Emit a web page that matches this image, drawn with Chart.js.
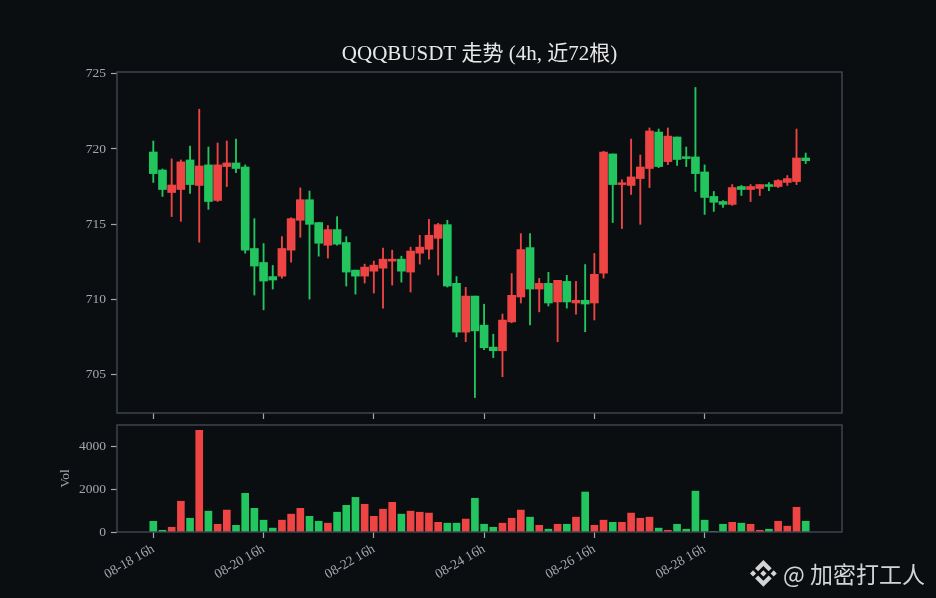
<!DOCTYPE html>
<html>
<head>
<meta charset="utf-8">
<script src="https://cdn.jsdelivr.net/npm/chart.js@4"></script>
<style>
  html, body { margin: 0; padding: 0; background: #0b0e11; overflow: hidden; width: 936px; height: 598px; }
  #wrap { position: relative; width: 936px; height: 598px; }
  canvas { position: absolute; left: 0; }
  #c1 { top: 0; }
  #c2 { top: 420px; }
  #wm { position: absolute; left: 750px; top: 556px; display: flex; align-items: center; color: #d4d4d4;
        font-family: "Noto Sans CJK SC", "Noto Sans", sans-serif; font-size: 23px; white-space: nowrap; }
  #wm svg { width: 27px; height: 27px; margin-right: 6px; }
</style>
</head>
<body>
<div id="wrap">
  <canvas id="c1" width="936" height="420"></canvas>
  <canvas id="c2" width="936" height="178"></canvas>
  <div id="wm"><svg viewBox="0 0 126.61 126.61"><g fill="#d4d4d4"><path d="M38.171 53.203L62.759 28.616l24.601 24.6 14.307-14.307L62.759 0 23.864 38.896zM0 62.759l14.307-14.307 14.307 14.307-14.307 14.307zM38.171 72.315l24.588 24.587 24.6-24.599 14.315 14.299-.007.008-38.908 38.908-38.896-38.895-.02-.02zM96.903 62.765l14.307-14.307 14.307 14.307-14.307 14.307zM77.27 62.752h.006L62.759 48.234 52.03 58.962l-1.232 1.233-2.543 2.543-.02.02.02.02 14.504 14.505 14.517-14.518.007-.008z"/></g></svg><span>@ 加密打工人</span></div>
</div>
<script>
const titleText = "QQQBUSDT 走势 (4h, 近72根)";
const tickPositions = [0, 12, 24, 36, 48, 60];
const tickLabels = ["08-18 16h", "08-20 16h", "08-22 16h", "08-24 16h", "08-26 16h", "08-28 16h"];
const priceTicks = [705, 710, 715, 720, 725];
const volTicks = [0, 2000, 4000];

const opens = [719.8,718.6,717.1,717.3,719.27,717.57,718.94,716.57,718.83,719.07,
  718.8,713.37,712.44,711.5,711.53,713.26,715.25,716.62,715.1,713.59,
  714.63,713.77,711.93,711.53,711.86,712.06,712.53,712.66,711.8,713.06,
  713.32,714.05,714.96,711.05,707.8,710.2,708.26,706.8,706.56,708.48,
  710.14,713.43,710.67,711.05,709.81,711.18,709.74,709.92,709.74,711.73,
  719.67,717.63,717.57,718.03,718.7,721.13,719.16,720.8,719.49,719.47,
  718.47,716.84,716.5,716.31,717.5,717.3,717.37,717.63,717.5,717.77,
  717.83,719.4];
const highs = [720.53,718.67,719.34,719.27,720.2,722.65,720.13,720.4,720.53,720.66,
  718.94,715.36,713.7,712.24,714.16,715.42,717.41,717.2,715.1,714.9,
  715.49,714.16,711.93,712.33,712.53,713.4,713.26,712.86,713.46,714.25,
  715.31,715.05,715.25,711.5,710.78,710.2,709.66,707.66,709.0,711.7,
  714.36,714.36,711.38,711.78,711.25,711.58,711.18,712.3,713.04,719.85,
  719.67,717.95,720.66,719.6,721.4,721.33,721.4,720.8,720.13,724.1,
  718.94,717.17,716.57,717.63,717.57,717.63,717.63,717.76,717.96,718.23,
  721.33,719.73];
const lows = [717.77,716.84,715.5,715.18,717.04,713.79,715.98,716.5,717.5,718.43,
  713.06,710.27,709.28,710.67,711.4,712.46,714.12,710.0,712.86,712.73,
  713.59,710.87,710.33,711.07,710.4,709.4,710.93,711.13,710.47,712.33,
  712.66,711.6,710.8,707.48,707.16,703.44,706.63,706.1,704.83,708.42,
  709.74,708.28,709.15,709.54,707.16,709.4,709.0,707.82,708.61,711.4,
  715.1,714.7,716.97,714.98,717.43,718.76,718.96,718.9,718.83,717.17,
  715.64,715.84,716.1,716.24,716.9,716.5,716.9,717.23,717.43,717.57,
  717.63,719.03];
const closes = [718.36,717.3,717.6,719.14,717.63,718.87,716.5,718.94,719.07,718.7,
  713.26,712.2,711.2,711.27,713.37,715.36,716.62,714.98,713.72,714.63,
  713.66,711.8,711.53,712.13,712.26,712.66,712.66,711.86,713.2,713.46,
  714.25,714.96,710.87,707.8,710.2,707.88,706.76,706.56,708.6,710.25,
  713.3,710.67,711.05,709.74,711.25,709.81,709.92,709.67,711.65,719.8,
  717.63,717.75,718.14,718.8,721.2,718.83,720.86,719.3,719.36,718.36,
  716.77,716.45,716.31,717.43,717.3,717.5,717.63,717.5,717.9,718.03,
  719.4,719.22];
const volumes = [498,80,220,1430,640,4730,970,360,1020,310,
  1800,1100,550,180,550,830,1100,730,500,410,
  920,1240,1610,1290,730,1060,1380,830,970,920,
  880,450,410,410,600,1570,360,220,410,640,
  1020,690,310,130,360,360,690,1860,310,550,
  450,450,880,640,690,180,80,360,130,1900,
  550,30,360,450,410,360,80,130,500,270,
  1150,500];

const UP = '#ef4444', DOWN = '#22c55e';
const colors = opens.map((o, i) => closes[i] >= o ? UP : DOWN);
const X_MIN = -3.95, X_MAX = 74.95;
const TICK_COLOR = '#a3a8b0';
const FRAME_COLOR = '#454c58';
const FONT = "'Liberation Serif', 'DejaVu Serif', 'Noto Sans CJK SC', serif";

const framePlugin = {
  id: 'frame',
  afterDraw(chart) {
    const a = chart.chartArea, ctx = chart.ctx;
    ctx.save();
    ctx.strokeStyle = FRAME_COLOR;
    ctx.lineWidth = 1.3;
    ctx.strokeRect(a.left, a.top, a.right - a.left, a.bottom - a.top);
    ctx.restore();
  }
};
const titlePlugin = {
  id: 'ttl',
  afterDraw(chart) {
    const a = chart.chartArea, ctx = chart.ctx;
    ctx.save();
    ctx.fillStyle = '#e8e8e8';
    ctx.font = "21px " + FONT;
    ctx.textAlign = 'center';
    ctx.textBaseline = 'middle';
    ctx.fillText(titleText, (a.left + a.right) / 2, 54);
    ctx.restore();
  }
};

function xAxis(showLabels, height) {
  return {
    type: 'linear', min: X_MIN, max: X_MAX, offset: false,
    afterBuildTicks: (ax) => { ax.ticks = tickPositions.map(v => ({ value: v })); },
    afterFit: (ax) => { ax.height = height; ax.paddingLeft = 0; ax.paddingRight = 0; },
    border: { display: false },
    grid: { offset: false, drawOnChartArea: false, drawTicks: true, tickLength: 6, tickColor: TICK_COLOR, tickWidth: 1.2 },
    ticks: {
      display: showLabels, autoSkip: false, maxRotation: 30, minRotation: 30, padding: 3,
      color: TICK_COLOR, font: { family: FONT, size: 13.5 },
      callback: (v) => { const k = tickPositions.indexOf(v); return k >= 0 ? tickLabels[k] : null; }
    }
  };
}
function yAxis(min, max, list, title) {
  return {
    min: min, max: max,
    afterBuildTicks: (ax) => { ax.ticks = list.map(v => ({ value: v })); },
    afterFit: (ax) => { ax.width = 117; ax.paddingTop = 0; ax.paddingBottom = 0; },
    border: { display: false },
    grid: { drawOnChartArea: false, drawTicks: true, tickLength: 6, tickColor: TICK_COLOR, tickWidth: 1.2 },
    ticks: { color: TICK_COLOR, padding: 5, font: { family: FONT, size: 13.5 }, callback: (v) => String(v) },
    title: title ? { display: true, text: title, color: TICK_COLOR, font: { family: FONT, size: 13.5 }, padding: { top: 57 } } : { display: false }
  };
}

new Chart(document.getElementById('c1'), {
  type: 'bar',
  data: {
    datasets: [
      {
        data: opens.map((o, i) => ({ x: i, y: [o, closes[i]] })),
        backgroundColor: colors, borderWidth: 0, barThickness: 8, minBarLength: 1.5, grouped: false
      },
      {
        data: opens.map((o, i) => ({ x: i, y: [lows[i], highs[i]] })),
        backgroundColor: colors, borderWidth: 0, barThickness: 1.2, grouped: false
      }
    ]
  },
  options: {
    responsive: false, animation: false,
    layout: { padding: { left: 0, right: 94, top: 72, bottom: 0 } },
    plugins: { legend: { display: false }, tooltip: { enabled: false } },
    scales: { x: xAxis(false, 7), y: yAxis(702.41, 725.13, priceTicks, null) }
  },
  plugins: [framePlugin, titlePlugin]
});

new Chart(document.getElementById('c2'), {
  type: 'bar',
  data: {
    datasets: [{
      data: volumes.map((v, i) => ({ x: i, y: v })),
      backgroundColor: colors, borderWidth: 0, barThickness: 7, grouped: false
    }]
  },
  options: {
    responsive: false, animation: false,
    layout: { padding: { left: 0, right: 94, top: 5, bottom: 0 } },
    plugins: { legend: { display: false }, tooltip: { enabled: false } },
    scales: { x: xAxis(true, 66), y: yAxis(0, 4977, volTicks, 'Vol') }
  },
  plugins: [framePlugin]
});
</script>
</body>
</html>
